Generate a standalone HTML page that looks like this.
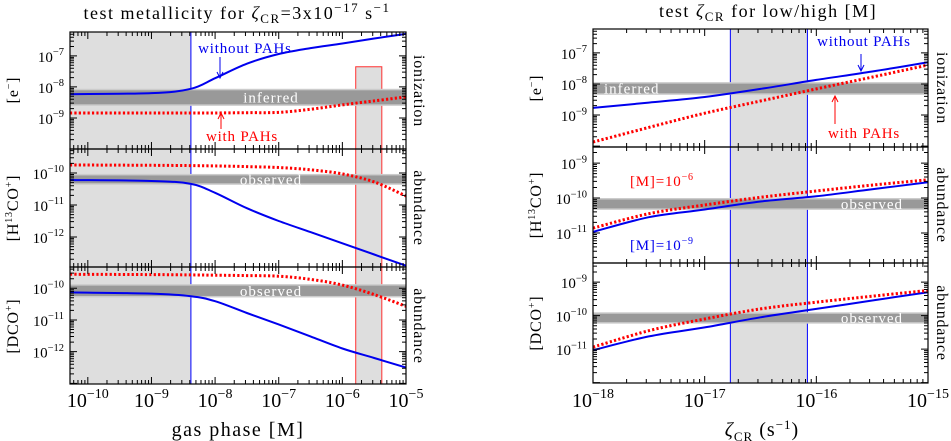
<!DOCTYPE html>
<html><head><meta charset="utf-8">
<style>
html,body{margin:0;padding:0;background:#fff;}
svg{display:block;font-family:"Liberation Serif","DejaVu Serif",serif;}
</style></head>
<body>
<svg id="chart" width="951" height="441" viewBox="0 0 951 441" xmlns="http://www.w3.org/2000/svg"></svg>
<script>
// ---- data: left figure (x = log10 [M]) ----
const leftX = [-10.28, -9, -8.38, -8, -7.5, -7, -6.5, -6, -5.5, -5];
const leftEBlue = [-8.23, -8.2, -8.06, -7.72, -7.25, -6.94, -6.75, -6.6, -6.44, -6.29];
const leftERed = [-8.84, -8.84, -8.84, -8.84, -8.83, -8.82, -8.72, -8.58, -8.45, -8.32];
const leftHBlue = [-10.22, -10.25, -10.34, -10.62, -11.1, -11.5, -11.85, -12.2, -12.55, -12.9];
const leftHRed = [-9.75, -9.76, -9.77, -9.78, -9.8, -9.83, -9.9, -10.03, -10.28, -10.72];
const leftDBlue = [-10.13, -10.17, -10.25, -10.41, -10.78, -11.14, -11.52, -11.9, -12.2, -12.5];
const leftDRed = [-9.56, -9.57, -9.58, -9.59, -9.6, -9.62, -9.72, -9.9, -10.2, -10.57];
// ---- data: right figure (x = log10 zeta) ----
const rightX = [-18, -17.5, -17, -16.5, -16, -15.5, -15];
const rightEBlue = [-8.77, -8.6, -8.42, -8.16, -7.87, -7.6, -7.3];
const rightERed = [-9.87, -9.4, -8.94, -8.55, -8.16, -7.78, -7.39];
const rightHBlue = [-10.97, -10.55, -10.33, -10.1, -9.95, -9.75, -9.55];
const rightHRed = [-10.86, -10.45, -10.2, -9.98, -9.8, -9.63, -9.48];
const rightDBlue = [-11.03, -10.62, -10.35, -10.05, -9.8, -9.55, -9.3];
const rightDRed = [-10.94, -10.45, -10.1, -9.8, -9.6, -9.42, -9.25];
// bands (log10 low, high)
const bandE = [-8.61, -8.06];
const bandHleft = [-10.37, -10.03];
const bandDleft = [-10.29, -9.87];
const bandEright = [-8.35, -7.94];
const bandHright = [-10.34, -10.0];
const bandDright = [-10.24, -9.9];
// shaded regions
const leftShade = [-10.28, -8.38];
const leftRedBox = [-5.79, -5.38];
const leftRedBoxTop = -7.35;
const rightShade = [-16.77, -16.08];
const leftXTicks = [-10, -9, -8, -7, -6, -5];
const rightXTicks = [-18, -17, -16, -15];

const svg = document.getElementById('chart');
const NS = 'http://www.w3.org/2000/svg';
function mk(tag, attrs, parent) {
  const e = document.createElementNS(NS, tag);
  for (const k in attrs) e.setAttribute(k, attrs[k]);
  (parent || svg).appendChild(e);
  return e;
}
function lin(d0, d1, r0, r1) { return v => r0 + (v - d0) * (r1 - r0) / (d1 - d0); }

const LX = lin(-10.28, -5, 70, 406);
const RX = lin(-18, -15, 593, 928);
const panels = [
  {x0:70,x1:406,y0:32,y1:149,ymin:-10,ymax:-6.23,X:LX,xlo:-10.28,xhi:-5,name:'left-electron'},
  {x0:70,x1:406,y0:149,y1:267,ymin:-12.94,ymax:-9.25,X:LX,xlo:-10.28,xhi:-5,name:'left-h13co'},
  {x0:70,x1:406,y0:267,y1:384,ymin:-13.02,ymax:-9.33,X:LX,xlo:-10.28,xhi:-5,name:'left-dco'},
  {x0:593,x1:928,y0:29,y1:147,ymin:-10.03,ymax:-6.23,X:RX,xlo:-18,xhi:-15,name:'right-electron'},
  {x0:593,x1:928,y0:147,y1:263,ymin:-11.86,ymax:-8.54,X:RX,xlo:-18,xhi:-15,name:'right-h13co'},
  {x0:593,x1:928,y0:263,y1:383,ymin:-12.01,ymax:-8.43,X:RX,xlo:-18,xhi:-15,name:'right-dco'}
];
panels.forEach(p => { p.Y = lin(p.ymin, p.ymax, p.y1, p.y0); });

function clipFor(p, id) {
  const c = mk('clipPath', {id: id});
  mk('rect', {x:p.x0, y:p.y0, width:p.x1-p.x0, height:p.y1-p.y0}, c);
  return 'url(#' + id + ')';
}

{
  const g = mk('g', {});
  
  
  mk('rect', {x:LX(leftShade[0]), y:32, width:LX(leftShade[1])-LX(leftShade[0]), height:352, fill:'#dedede'}, g);
  mk('line', {x1:LX(leftShade[1]), x2:LX(leftShade[1]), y1:32, y2:384, stroke:'#0000ff', 'stroke-width':1}, g);
  const b = mk('g', {});
  
  
  const yt = panels[0].Y(leftRedBoxTop);
  mk('rect', {x:LX(leftRedBox[0]), y:yt, width:LX(leftRedBox[1])-LX(leftRedBox[0]), height:384-yt, fill:'#dedede', stroke:'#ff3030', 'stroke-width':1}, b);
  const r = mk('g', {});
  
  
  mk('rect', {x:RX(rightShade[0]), y:29, width:RX(rightShade[1])-RX(rightShade[0]), height:354, fill:'#dedede'}, r);
  mk('line', {x1:RX(rightShade[0]), x2:RX(rightShade[0]), y1:29, y2:383, stroke:'#0000ff', 'stroke-width':1}, r);
  mk('line', {x1:RX(rightShade[1]), x2:RX(rightShade[1]), y1:29, y2:383, stroke:'#0000ff', 'stroke-width':1}, r);
}

const bands = [[0,bandE,'inferred'],[1,bandHleft,'observed'],[2,bandDleft,'observed'],[3,bandEright,'inferred'],[4,bandHright,'observed'],[5,bandDright,'observed']];
bands.forEach(([i,b,label],k) => {
  const p = panels[i];
  const g = mk('g', {});
  
  
  const ya = p.Y(b[1]), yb = p.Y(b[0]);
  mk('rect', {x:p.x0, y:ya, width:p.x1-p.x0, height:yb-ya, fill:'#cccccc'}, g);
  mk('rect', {x:p.x0, y:ya+1.5, width:p.x1-p.x0, height:Math.max(0,yb-ya-3), fill:'#999999'}, g);
  let tx, anchor;
  if (i < 3) { tx = 271; anchor = 'middle'; }
  else if (label === 'inferred') { tx = 604; anchor = 'start'; }
  else { tx = 903; anchor = 'end'; }
  const t = mk('text', {x:tx, y:(ya+yb)/2+5, fill:'#ffffff', 'font-size':15, 'letter-spacing':1, 'text-anchor':anchor}, g);
  t.textContent = label;
  
  
});

const series = [
  [0,leftX,leftEBlue,'blue'],[0,leftX,leftERed,'red'],
  [1,leftX,leftHBlue,'blue'],[1,leftX,leftHRed,'red'],
  [2,leftX,leftDBlue,'blue'],[2,leftX,leftDRed,'red'],
  [3,rightX,rightEBlue,'blue'],[3,rightX,rightERed,'red'],
  [4,rightX,rightHBlue,'blue'],[4,rightX,rightHRed,'red'],
  [5,rightX,rightDBlue,'blue'],[5,rightX,rightDRed,'red']
];
function smoothPath(pts) {
  let d = 'M' + pts[0][0].toFixed(1) + ',' + pts[0][1].toFixed(1);
  for (let i = 0; i < pts.length - 1; i++) {
    const p0 = pts[Math.max(0,i-1)], p1 = pts[i], p2 = pts[i+1], p3 = pts[Math.min(pts.length-1,i+2)];
    const c1 = [p1[0] + (p2[0]-p0[0])/6, p1[1] + (p2[1]-p0[1])/6];
    const c2 = [p2[0] - (p3[0]-p1[0])/6, p2[1] - (p3[1]-p1[1])/6];
    d += ' C' + c1[0].toFixed(1) + ',' + c1[1].toFixed(1) + ' ' + c2[0].toFixed(1) + ',' + c2[1].toFixed(1) + ' ' + p2[0].toFixed(1) + ',' + p2[1].toFixed(1);
  }
  return d;
}
series.forEach(([i,xs,ys,col],k) => {
  const p = panels[i];
  const pts = xs.map((x,j) => [p.X(x), p.Y(ys[j])]);
  const attrs = {d:smoothPath(pts), fill:'none', 'clip-path':clipFor(p,'c'+k)};
  if (col === 'blue') { attrs.stroke = '#0000ee'; attrs['stroke-width'] = 2; }
  else { attrs.stroke = '#ff0000'; attrs['stroke-width'] = 3; attrs['stroke-dasharray'] = '2.2 2.2'; }
  const path = mk('path', attrs);
  
  
});

function supLabel(g, x, y, exp, size, anchor) {
  const t = mk('text', {x:x, y:y, 'font-size':size, 'text-anchor':anchor, fill:'#000'}, g);
  const a = mk('tspan', {}, t); a.textContent = '10';
  const b = mk('tspan', {dy:-size*0.45, 'font-size':size*0.7}, t); b.textContent = '\u2212' + Math.abs(exp);
  return t;
}
panels.forEach((p,i) => {
  const g = mk('g', {});
  
  
  mk('rect', {x:p.x0, y:p.y0, width:p.x1-p.x0, height:p.y1-p.y0, fill:'none', stroke:'#000', 'stroke-width':1.2}, g);
  let d = '';
  for (let dec = Math.floor(p.xlo); dec <= p.xhi; dec++) {
    for (let m = 1; m <= 9; m++) {
      const v = dec + Math.log10(m);
      if (v < p.xlo - 1e-6 || v > p.xhi + 1e-6) continue;
      const x = p.X(v), L = m === 1 ? 7 : 4;
      d += 'M' + x + ',' + p.y1 + 'v' + (-L) + 'M' + x + ',' + p.y0 + 'v' + L;
    }
  }
  for (let dec = Math.floor(p.ymin); dec <= p.ymax; dec++) {
    for (let m = 1; m <= 9; m++) {
      const v = dec + Math.log10(m);
      if (v < p.ymin || v > p.ymax) continue;
      const y = p.Y(v), L = m === 1 ? 7 : 4;
      d += 'M' + p.x0 + ',' + y + 'h' + L + 'M' + p.x1 + ',' + y + 'h' + (-L);
    }
    const yy = p.Y(dec);
    if (yy > p.y0 + 8 && yy < p.y1 - 8) {
      const lab = supLabel(g, p.x0 - 6, yy + 6, dec, 15, 'end');
      
      
    }
  }
  mk('path', {d:d, stroke:'#000', 'stroke-width':1, fill:'none'}, g);
});
leftXTicks.forEach(v => {
  const t = supLabel(svg, LX(v), 407, v, 20, 'middle');
  
  
});
rightXTicks.forEach(v => {
  const t = supLabel(svg, RX(v), 407, v, 20, 'middle');
  
  
});

const html = `
  <text x="237" y="19" font-size="18" letter-spacing="1.5" text-anchor="middle">test metallicity for <tspan font-style="italic">ζ</tspan><tspan font-size="13" dy="4">CR</tspan><tspan dy="-4">=3x10</tspan><tspan font-size="13" dy="-7">−17</tspan><tspan dy="7"> s</tspan><tspan font-size="13" dy="-7">−1</tspan></text>
  <text x="768" y="17" font-size="18" letter-spacing="1.5" text-anchor="middle">test <tspan font-style="italic">ζ</tspan><tspan font-size="13" dy="4">CR</tspan><tspan dy="-4"> for low/high [M]</tspan></text>
  <text x="238" y="436" font-size="20" letter-spacing="1.5" text-anchor="middle">gas phase [M]</text>
  <text x="762" y="436" font-size="20" letter-spacing="1" text-anchor="middle"><tspan font-style="italic">ζ</tspan><tspan font-size="13" dy="5">CR</tspan><tspan dy="-5"> (s</tspan><tspan font-size="13" dy="-7">−1</tspan><tspan dy="7">)</tspan></text>
  <g font-size="16" letter-spacing="0.8">
   <text transform="translate(18,90) rotate(-90)" text-anchor="middle">[e<tspan font-size="10" dy="-6">−</tspan><tspan dy="6">]</tspan></text>
   <text transform="translate(18,208) rotate(-90)" text-anchor="middle">[H<tspan font-size="10" dy="-6">13</tspan><tspan dy="6">CO</tspan><tspan font-size="10" dy="-6">+</tspan><tspan dy="6">]</tspan></text>
   <text transform="translate(18,326) rotate(-90)" text-anchor="middle">[DCO<tspan font-size="10" dy="-6">+</tspan><tspan dy="6">]</tspan></text>
   <text transform="translate(541,88) rotate(-90)" text-anchor="middle">[e<tspan font-size="10" dy="-6">−</tspan><tspan dy="6">]</tspan></text>
   <text transform="translate(541,205) rotate(-90)" text-anchor="middle">[H<tspan font-size="10" dy="-6">13</tspan><tspan dy="6">CO</tspan><tspan font-size="10" dy="-6">+</tspan><tspan dy="6">]</tspan></text>
   <text transform="translate(541,323) rotate(-90)" text-anchor="middle">[DCO<tspan font-size="10" dy="-6">+</tspan><tspan dy="6">]</tspan></text>
   <text transform="translate(414,91) rotate(90)" text-anchor="middle">ionization</text>
   <text transform="translate(414,208) rotate(90)" text-anchor="middle">abundance</text>
   <text transform="translate(414,326) rotate(90)" text-anchor="middle">abundance</text>
   <text transform="translate(937,88) rotate(90)" text-anchor="middle">ionization</text>
   <text transform="translate(937,205) rotate(90)" text-anchor="middle">abundance</text>
   <text transform="translate(937,323) rotate(90)" text-anchor="middle">abundance</text>
  </g>
  <g font-size="15" letter-spacing="0.8">
   <text x="245" y="53" fill="#0000ee" text-anchor="middle">without PAHs</text>
   <path d="M220,57 V78 M217,72 L220,78 L223,72" stroke="#0000ee" fill="none"/>
   <text x="242" y="141" fill="#ff0000" text-anchor="middle">with PAHs</text>
   <path d="M221,129 V113 M218,119 L221,113 L224,119" stroke="#ff0000" fill="none"/>
   <text x="864" y="46" fill="#0000ee" text-anchor="middle">without PAHs</text>
   <path d="M861,54 V71 M858,65 L861,71 L864,65" stroke="#0000ee" fill="none"/>
   <text x="864" y="138" fill="#ff0000" text-anchor="middle">with PAHs</text>
   <path d="M835,124 V96 M832,102 L835,96 L838,102" stroke="#ff0000" fill="none"/>
   <text x="630" y="186" fill="#ff0000">[M]=10<tspan font-size="10" dy="-6">−6</tspan></text>
   <text x="630" y="250" fill="#0000ee">[M]=10<tspan font-size="10" dy="-6">−9</tspan></text>
  </g>`;
svg.insertAdjacentHTML('beforeend', html);
</script>
</body></html>
